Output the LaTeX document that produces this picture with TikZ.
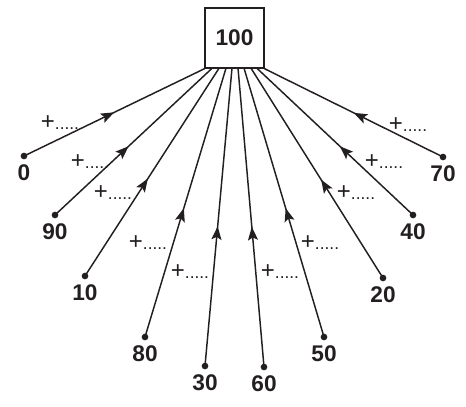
\documentclass[tikz,border=0pt]{standalone}
\usepackage{fontspec}
\setmainfont{Liberation Sans}
\usetikzlibrary{calc,arrows.meta,decorations.markings}
\definecolor{ink}{RGB}{35,31,32}
\newcommand{\plusdots}{{\fontsize{18}{18}\selectfont +}.....}
\tikzset{
  numbox/.style={draw=ink, line width=1.1pt, minimum width=44pt, minimum height=45pt,
    inner sep=0pt, font=\fontsize{17}{18}\selectfont\bfseries, text=ink},
  dot/.style={circle, fill=ink, inner sep=0pt, minimum size=5pt},
  numlab/.style={font=\fontsize{17}{18}\selectfont\bfseries, text=ink, inner sep=0pt},
  pluslab/.style={font=\fontsize{13}{14}\selectfont, text=ink, inner sep=0pt},
  midarrow/.style={draw=ink, line width=1.1pt, postaction={decorate},
    decoration={markings, mark=at position #1 with {\arrow{Stealth[length=10pt,width=7.5pt,inset=2pt]}}}},
  midarrow/.default=0.5
}

\begin{document}
\begin{tikzpicture}[x=0.75pt,y=-0.75pt]
  \useasboundingbox (0,0) rectangle (466,406);

  \node[numbox] (box) at (234.5,38) {100};

  % spokes: name/label/dot x/dot y/top x/arrow pos/plus x/plus y
  \foreach \name/\lab/\dx/\dy/\tx/\ap/\px/\py in {
      a/0/24/156/205/0.50/60/123,
      b/90/55/215/212/0.47/90/162,
      c/10/85/276/219/0.47/113/193,
      d/80/145/337/226/0.48/148/243,
      e/30/205/366/232/0.47/190/272,
      f/60/264/367/238/0.47/280/272,
      g/50/324/337/244/0.48/320/243,
      h/20/383/278/251/0.47/356/193,
      i/40/413/215/257/0.47/384/162,
      j/70/443/157/264/0.50/408/125} {
    \node[dot] (d\name) at (\dx,\dy) {};
    \node[numlab] (l\name) at (\dx,\dy+17) {\lab};
    \coordinate (t\name) at ($(box.south west)!{(\tx-205)/59}!(box.south east)$);
    \draw[midarrow=\ap] (d\name.center) -- (t\name);
    \node[pluslab] (p\name) at (\px,\py) {\plusdots};
  }
\end{tikzpicture}
\end{document}
